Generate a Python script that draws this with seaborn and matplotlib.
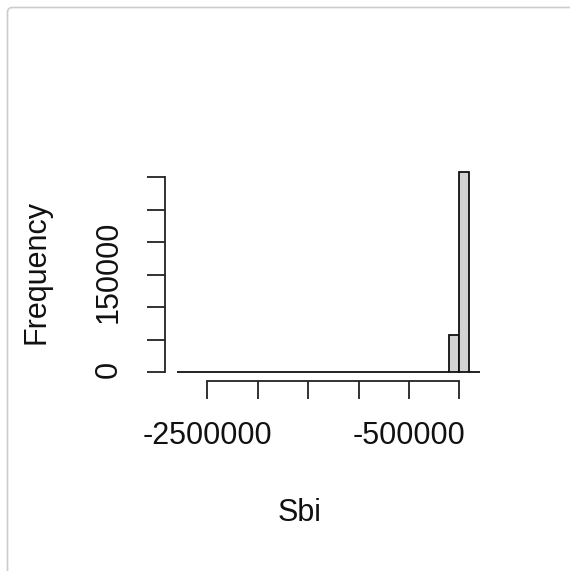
import numpy as np
import pandas as pd
import matplotlib
matplotlib.use("Agg")
import matplotlib.pyplot as plt
from matplotlib.patches import FancyBboxPatch
from matplotlib.transforms import IdentityTransform, ScaledTranslation
import seaborn as sns

# Histogram of Sbi: bin edges (step 100000) and counts per bin
bin_edges = [-2800000 + 100000 * i for i in range(31)]
bin_counts = [0] * 27 + [57700, 308000, 0]

x_ticks = [-2500000, -2000000, -1500000, -1000000, -500000, 0]
x_tick_labels = ["-2500000", "", "", "", "-500000", ""]
y_ticks = [0, 50000, 100000, 150000, 200000, 250000, 300000]
y_tick_labels = ["0", "", "", "150000", "", "", ""]

x_label = "Sbi"
y_label = "Frequency"

edges = np.array(bin_edges, dtype=float)
df = pd.DataFrame({
    "Sbi": (edges[:-1] + edges[1:]) / 2,
    "count": bin_counts,
})

sns.set_style("white")
plt.rcParams["font.family"] = ["Liberation Sans", "DejaVu Sans"]

W, H = 570, 571
fig = plt.figure(figsize=(W / 100, H / 100), dpi=100)
ax = fig.add_axes([165 / W, 1 - 380.5 / H, (491.6 - 165) / W, (380.5 - 164) / H])

sns.histplot(data=df, x="Sbi", weights="count", bins=list(bin_edges), ax=ax,
             color="#d3d3d3", edgecolor="#111111", linewidth=1.3, alpha=1.0)

span = edges[-1] - edges[0]
ax.set_xlim(edges[0] - 0.04 * span, edges[-1] + 0.04 * span)
top = max(bin_counts)
ax.set_ylim(-0.04 * top, 1.04 * top)

for side in ("top", "right"):
    ax.spines[side].set_visible(False)
for side in ("left", "bottom"):
    ax.spines[side].set_color("#222222")
    ax.spines[side].set_linewidth(1.3)
ax.spines["left"].set_bounds(y_ticks[0], y_ticks[-1])
ax.spines["bottom"].set_bounds(x_ticks[0], x_ticks[-1])

ax.set_xticks(x_ticks)
ax.set_xticklabels(x_tick_labels)
ax.set_yticks(y_ticks)
ax.set_yticklabels(y_tick_labels, rotation=90, va="center")
ax.tick_params(axis="both", which="major", bottom=True, left=True,
               direction="out", length=13, width=1.3,
               color="#222222", labelsize=22, labelcolor="#111111")
ax.tick_params(axis="x", pad=16)
ax.tick_params(axis="y", pad=17)
# nudge the rotated y labels so they sit centred on their ticks
nudge = ScaledTranslation(0, 3 / 100, fig.dpi_scale_trans)
for lbl in ax.get_yticklabels():
    lbl.set_transform(lbl.get_transform() + nudge)
ax.grid(False)
ax.set_xlabel("")
ax.set_ylabel("")

fig.text(300 / W, 1 - 513 / H, x_label, ha="center", va="center",
         fontsize=22, color="#111111")
fig.text(37 / W, 1 - 272 / H, y_label, ha="center", va="center",
         rotation=90, fontsize=22, color="#111111")

# light panel border along the top and left edges
frame = FancyBboxPatch((7.5, -60), 700, (H - 7.5) + 60,
                       boxstyle="round,pad=0,rounding_size=5",
                       transform=IdentityTransform(), fill=False,
                       edgecolor="#cccccc", linewidth=1.2)
fig.patches.append(frame)

fig.savefig("out.png", dpi=100)
